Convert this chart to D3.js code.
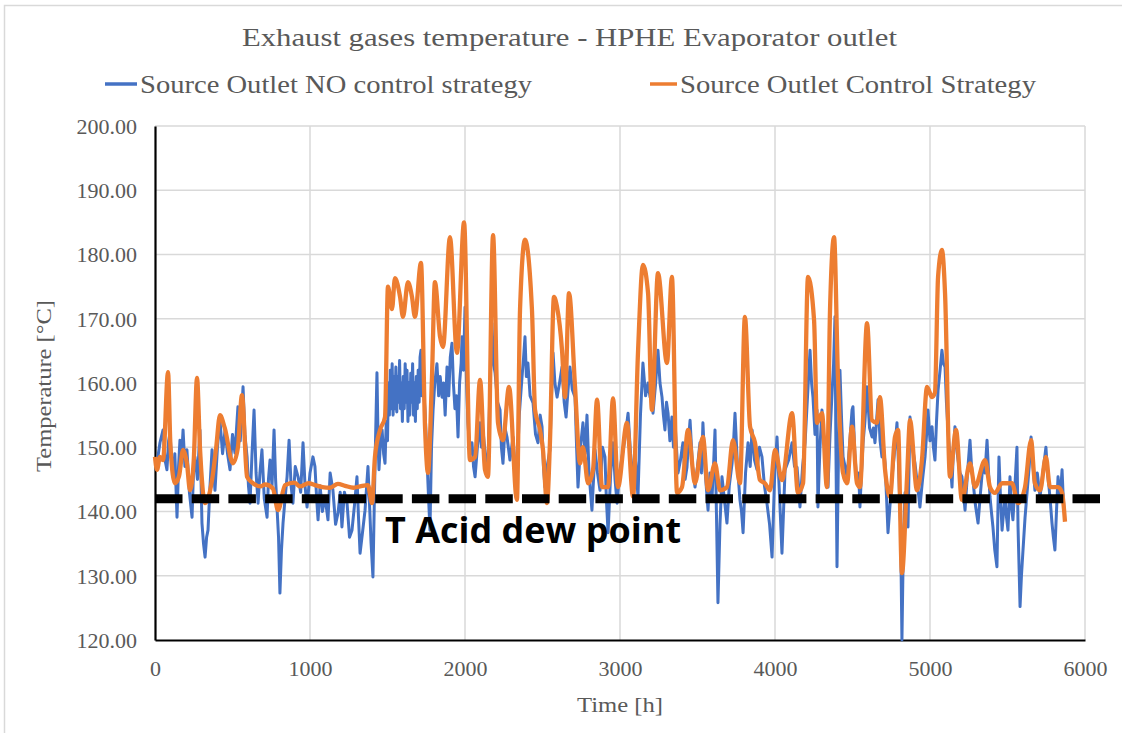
<!DOCTYPE html>
<html><head><meta charset="utf-8">
<script src="https://cdn.jsdelivr.net/npm/d3@7"></script>
<style>body{margin:0;background:#fff}svg{display:block}</style>
</head><body>
<svg id="c" width="1122" height="733"></svg>
<script>
const title = "Exhaust gases temperature - HPHE Evaporator outlet";
const seriesNames = ["Source Outlet NO control strategy", "Source Outlet Control Strategy"];
const xTicks = [0,1000,2000,3000,4000,5000,6000];
const yTicks = [120,130,140,150,160,170,180,190,200];
const dewPoint = 142;
const dewLabel = "T Acid dew point";

// Source Outlet NO control strategy [hour, °C]
const noControl = [
[0,147.5],[13,147.5],[32,150.7],[52,152.7],[65,148],[77,146.5],[88,151],[97,152.2],[107,148],[116,145.4],[128,149],[142,139.1],[152,147],[161,151.1],[171,148],[181,152.7],
[193,147],[206,149.6],[222,143],[239,139.1],[248,146],[258,148.5],[274,145],[290,152.7],[303,138.2],[313,135],[323,132.9],[333,136],[342,137.1],[355,144],[368,149.6],[387,143.3],[403,150],[419,154.2],
[436,149],[452,152.7],[468,149],[484,146.5],[500,152],[516,149.1],[535,156.3],[550,151],[568,159.4],[580,152],[594,148.5],[603,144],[613,141.3],[626,149],[639,155.8],[652,146],[665,141.3],[677,146],[690,149.6],
[705,142],[723,139.1],[732,145],[742,148.0],[755,144],[768,152.7],[778,145],[787,140.7],[797,136],[806,127.3],[816,134],[826,138.2],[839,142],[852,145.4],[865,151.1],[878,144],[890,141.3],[905,147],[923,145.4],
[940,143],[955,150.7],[968,144],[981,140.7],[1000,146],[1019,148.5],[1032,147.0],[1043,142],[1052,138.7],[1065,144],[1080,140],[1097,142.3],[1116,138.7],[1130,146],[1148,143.3],[1165,138],[1181,139.8],[1195,143],[1206,137.6],[1222,143],
[1239,141.3],[1255,136],[1271,137.1],[1287,141],[1303,145.4],[1313,139],[1323,133.5],[1340,137],[1355,140.2],[1374,147.0],[1386,140],[1394,135.1],[1406,129.8],[1420,148],[1432,161.6],[1440,150],[1445,146.5],[1455,151],
[1465,152.7],[1475,149],[1484,147.5],[1492,154],[1500,151],[1506,160],[1512,155],[1518,162],[1524,156],[1530,163],[1536,155],[1542,161],[1548,156],[1554,162.5],[1560,155.5],[1566,161],[1572,157],[1578,163.5],[1584,156],[1590,160],[1596,154],
[1602,161],[1608,156],[1614,163],[1620,157],[1626,162],[1632,154],[1638,160],[1644,155],[1650,161.5],[1656,157],[1662,163],[1668,155],[1674,160],[1680,154],[1686,161],[1692,156],[1698,162],[1704,157],[1710,164],[1716,165.1],[1722,158],[1730,160],[1742,155.8],[1752,150],[1761,144.4],
[1774,137.1],[1784,150],[1794,155.8],[1805,160],[1819,163.0],[1830,158],[1840,161],[1852,157.8],[1862,160],[1872,155],[1884,162.5],[1895,158],[1905,164],[1916,166.2],[1925,160],[1935,156],[1945,158],[1955,151.6],[1965,160],[1975,163],[1981,167.2],[1990,162],[2000,171.8],[2010,160],[2019,153.8],
[2032,149],[2045,150.7],[2055,147],[2065,145.4],[2080,150],[2097,153.8],[2106,150],[2116,152.7],[2130,149],[2148,147.5],[2160,158],[2174,169.3],[2184,163],[2194,161.6],[2210,157],[2226,155.8],[2235,150],[2245,147.5],[2258,153],[2271,151.6],
[2290,148],[2310,151.6],[2322,147],[2335,145.4],[2350,155],[2368,161.0],[2378,164],[2387,167.2],[2396,161],[2406,163.1],[2420,158],[2439,156.9],[2455,152],[2471,150.7],[2485,155],[2497,153.2],[2506,147],[2516,143.8],[2530,147],[2548,149.6],
[2558,158],[2568,164.7],[2580,160],[2594,157.8],[2610,160],[2626,162.5],[2640,157],[2652,154.7],[2665,159],[2677,162.5],[2692,159],[2710,157.8],[2720,150],[2729,143.8],[2745,150],[2761,153.8],[2775,149],[2787,155.0],[2800,146],[2819,140.2],
[2839,149.6],[2855,146],[2871,143.3],[2887,150],[2903,148.5],[2912,142],[2923,136.7],[2940,146],[2955,150.7],[2968,145],[2981,141.3],[2997,146],[3013,148.5],[3030,151],[3052,155.3],[3068,149],[3084,145.4],[3100,148],[3116,142.3],[3132,155],
[3148,163.1],[3165,158],[3181,160.0],[3194,157.8],[3205,161],[3213,155.3],[3230,160],[3245,165.1],[3258,160],[3271,157.8],[3280,155],[3290,152.7],[3300,157],[3310,155.3],[3322,151],[3335,154.7],[3345,150],[3355,153.8],
[3374,146.0],[3390,148],[3406,150.7],[3420,145],[3432,146.9],[3442,151],[3452,154.2],[3468,147],[3484,143.8],[3500,147],[3516,150.7],[3526,146],[3535,153.8],[3550,146],[3568,140.2],[3580,146],[3594,142.3],[3605,148],[3613,152.7],[3622,140],
[3632,125.8],[3645,138],[3658,145.4],[3673,142],[3690,138.2],[3705,144],[3723,147.5],[3733,151],[3742,155.3],[3758,147],[3774,141.8],[3784,140],[3794,136.7],[3810,146],[3826,150.7],[3840,147],[3852,152.7],[3868,148],[3884,146.5],
[3900,150],[3916,148.5],[3932,144],[3948,141.3],[3965,138],[3981,132.9],[3997,145],[4013,151.6],[4030,142],[4045,133.5],[4055,140],[4065,146.5],[4088,148],[4110,150.7],[4126,147],[4142,146.9],[4152,144],[4161,140.7],[4178,147],[4194,150.7],
[4210,158],[4226,165.1],[4236,160],[4245,157.8],[4258,152],[4271,155.8],[4277,140.7],[4290,150],[4303,155.8],[4313,152],[4323,150.7],[4333,147],[4342,143.8],[4355,152],[4368,158.4],[4378,163],[4387,170.3],[4393,150],[4400,131.4],
[4410,150],[4419,162.0],[4430,154],[4439,148.5],[4452,147],[4465,145.4],[4480,150],[4497,155.8],[4503,156.3],[4515,149],[4529,144.4],[4540,146],[4548,140.7],[4558,146],[4568,150.7],[4580,154],[4594,159.4],[4610,153],[4626,151.6],
[4635,153],[4645,150.7],[4655,154],[4665,157.4],[4678,151],[4690,148.5],[4700,150],[4710,147.5],[4720,142],[4729,136.7],[4742,141],[4755,145.4],[4770,149],[4787,153.8],[4800,145],[4810,138],[4819,120.0],[4828,135],[4839,142.9],[4848,140],[4858,137.6],
[4871,154.7],[4887,150],[4903,147.5],[4920,144],[4935,140.7],[4952,145],[4968,148.5],[4978,152],[4987,155.8],[5000,151],[5013,153.2],[5022,150],[5032,148.0],[5042,154],[5052,158.9],[5065,162],[5077,165.1],[5087,163],[5097,162.5],
[5106,157],[5116,152.7],[5130,148],[5142,143.8],[5150,149],[5161,153.2],[5171,150],[5181,148.0],[5193,146],[5206,145.4],[5216,143],[5226,140.2],[5242,146],[5258,151.1],[5268,147],[5277,144.9],[5293,141],[5310,138.2],[5326,143],[5342,147.5],
[5355,146],[5368,151.1],[5378,146],[5387,142.3],[5396,140],[5406,137.6],[5418,134],[5432,131.4],[5438,140],[5445,148.5],[5455,142],[5465,137.1],[5475,140],[5484,142.3],[5494,139],[5503,137.1],[5510,141],[5516,145.4],[5525,141],[5535,138.7],
[5548,144],[5561,150.0],[5568,137.6],[5575,131],[5581,125.2],[5590,130],[5600,134.0],[5613,139],[5626,142.9],[5640,147],[5652,151.6],[5665,147],[5677,143.3],[5692,146],[5710,142.3],[5728,146],[5748,150.0],[5758,146],[5768,143.8],
[5778,141],[5787,138.2],[5796,136],[5806,134.0],[5816,140],[5826,145.4],[5840,142],[5852,146.5],[5858,143],[5865,140.2]
];

// Source Outlet Control Strategy [hour, °C]
const withControl = [
[0,148.5],[13,146.5],[32,148.5],[52,148.0],[84,161.7],[100,150.0],[129,144.4],[155,145.5],[181,149.6],[206,147.5],
[226,143.3],[250,148.0],[271,160.8],[290,150.0],[323,141.3],[368,144.9],[395,150.0],[419,155.0],[450,153.0],[503,147.5],
[535,150.0],[561,158.1],[594,145.4],[632,144.4],[680,143.9],[710,144.2],[760,143.6],[794,140.2],[839,144.1],[900,144.5],
[935,143.9],[990,144.4],[1032,144.1],[1080,143.8],[1129,143.7],[1180,144.3],[1226,144.0],[1280,143.7],[1323,143.9],[1374,144.1],
[1400,141.3],[1419,148.5],[1452,152.7],[1484,154.7],[1503,175.0],[1529,171.5],[1548,176.3],[1581,173.4],[1600,170.3],[1632,175.7],
[1658,173.4],[1677,170.3],[1716,178.7],[1742,153.2],[1761,146.0],[1787,161.0],[1806,175.7],[1839,167.2],[1858,165.6],[1903,182.7],
[1948,164.7],[1994,185.0],[2032,148.0],[2065,148.5],[2097,160.5],[2129,146.5],[2148,145.4],[2181,183.0],[2213,153.8],[2245,151.1],
[2284,159.4],[2335,141.8],[2355,171.4],[2387,182.3],[2432,171.4],[2452,155.8],[2484,152.7],[2503,149.6],[2529,141.3],[2548,150.7],
[2574,173.4],[2594,171.8],[2626,165.1],[2645,157.8],[2671,174.0],[2710,159.4],[2742,147.5],[2761,150.0],[2794,144.4],[2826,146.5],
[2852,157.4],[2884,143.8],[2923,143.8],[2955,157.6],[2987,143.8],[3045,153.8],[3084,142.3],[3116,164.7],[3148,178.4],[3181,174.0],
[3206,155.8],[3245,177.1],[3303,163.1],[3335,176.5],[3368,142.9],[3400,143.8],[3439,152.7],[3484,144.4],[3535,151.6],[3568,143.3],
[3613,147.5],[3645,143.3],[3690,143.8],[3729,151.1],[3774,144.4],[3806,170.3],[3839,153.2],[3871,150.7],[3903,144.9],[3935,144.4],
[3968,143.3],[4000,149.6],[4045,144.9],[4110,155.3],[4148,142.9],[4181,144.4],[4213,176.5],[4252,169.8],[4271,153.8],[4303,155.3],
[4335,143.8],[4355,171.4],[4381,182.7],[4406,161.0],[4439,146.0],[4465,144.4],[4497,153.2],[4529,144.4],[4548,143.8],[4594,169.3],
[4626,154.2],[4658,153.8],[4677,157.8],[4710,146.5],[4742,142.3],[4774,151.6],[4794,152.7],[4819,130.4],[4852,145.4],[4871,154.2],
[4916,143.3],[4948,148.0],[4981,159.4],[5013,157.8],[5032,158.5],[5052,176.5],[5077,180.7],[5097,174.0],[5129,145.4],[5168,152.7],
[5206,141.8],[5258,147.5],[5290,143.8],[5355,148.0],[5387,143.8],[5419,142.9],[5465,144.4],[5529,144.4],[5568,141.3],[5613,143.8],
[5652,151.1],[5677,144.4],[5710,143.3],[5748,148.5],[5774,143.8],[5826,143.8],[5852,142.9],[5871,138.4]
];

const colors = ["#4472C4", "#ED7D31"];
const svg = d3.select("#c");
const FONT = "'Liberation Serif', 'DejaVu Serif', serif";
const TXT = "#595959";

svg.append("rect").attr("x",4.5).attr("y",5.5).attr("width",1130).attr("height",740)
  .attr("fill","none").attr("stroke","#d9d9d9").attr("stroke-width",1.5);

const x = d3.scaleLinear().domain([0,6000]).range([155,1085]);
const y = d3.scaleLinear().domain([120,200]).range([640,126]);

// grid
svg.append("g").selectAll("line").data(yTicks.filter(d=>d>120)).join("line")
  .attr("x1",155).attr("x2",1085).attr("y1",d=>y(d)).attr("y2",d=>y(d))
  .attr("stroke","#d9d9d9").attr("stroke-width",1.5);
svg.append("g").selectAll("line").data(xTicks.filter(d=>d>0)).join("line")
  .attr("x1",d=>x(d)).attr("x2",d=>x(d)).attr("y1",126).attr("y2",640)
  .attr("stroke","#d9d9d9").attr("stroke-width",1.5);

// axes
const yAxis = svg.append("g").attr("transform","translate(155,0)")
  .call(d3.axisLeft(y).tickValues(yTicks).tickSize(0).tickPadding(18).tickFormat(d3.format(".2f")));
const xAxis = svg.append("g").attr("transform","translate(0,640)")
  .call(d3.axisBottom(x).tickValues(xTicks).tickSize(0).tickPadding(20).tickFormat(d3.format("d")));
[yAxis,xAxis].forEach(a=>{
  a.select(".domain").attr("stroke","#000").attr("stroke-width",2.2);
  a.selectAll("text").attr("font-family",FONT).attr("font-size",22).attr("fill",TXT);
});
yAxis.selectAll("text").attr("dy","0.34em");

// series
const line = d3.line().x(d=>x(d[0])).y(d=>y(d[1]));
svg.append("path").datum(noControl).attr("d",line.curve(d3.curveLinear))
  .attr("fill","none").attr("stroke",colors[0]).attr("stroke-width",3).attr("stroke-linejoin","round");
svg.append("path").datum(withControl).attr("d",line.curve(d3.curveMonotoneX))
  .attr("fill","none").attr("stroke",colors[1]).attr("stroke-width",4.3).attr("stroke-linejoin","round");

// dew point line
svg.append("line").attr("x1",x(0)).attr("x2",1102).attr("y1",y(dewPoint)).attr("y2",y(dewPoint))
  .attr("stroke","#000").attr("stroke-width",9).attr("stroke-dasharray","27.5,9.2");
svg.append("text").attr("x",385).attr("y",543).text(dewLabel)
  .attr("font-family","'Open Sans', 'Noto Sans', sans-serif").attr("font-weight","bold")
  .attr("font-size",36).attr("fill","#000").attr("textLength",296).attr("lengthAdjust","spacingAndGlyphs");

// title
svg.append("text").attr("x",569.5).attr("y",46).attr("text-anchor","middle").text(title)
  .attr("font-family",FONT).attr("font-size",26).attr("fill",TXT)
  .attr("textLength",655).attr("lengthAdjust","spacingAndGlyphs");

// legend
const leg = [{x1:105,x2:137,tx:140,tw:392},{x1:650,x2:677,tx:680,tw:356}];
leg.forEach((l,i)=>{
  svg.append("line").attr("x1",l.x1).attr("x2",l.x2).attr("y1",84).attr("y2",84)
    .attr("stroke",colors[i]).attr("stroke-width",3.5);
  svg.append("text").attr("x",l.tx).attr("y",93).text(seriesNames[i])
    .attr("font-family",FONT).attr("font-size",26).attr("fill",TXT)
    .attr("textLength",l.tw).attr("lengthAdjust","spacingAndGlyphs");
});

// axis titles
svg.append("text").attr("transform","translate(51,386) rotate(-90)").attr("text-anchor","middle")
  .text("Temperature [°C]").attr("font-family",FONT).attr("font-size",22).attr("fill",TXT)
  .attr("textLength",172).attr("lengthAdjust","spacingAndGlyphs");
svg.append("text").attr("x",620).attr("y",712).attr("text-anchor","middle")
  .text("Time [h]").attr("font-family",FONT).attr("font-size",22).attr("fill",TXT)
  .attr("textLength",86).attr("lengthAdjust","spacingAndGlyphs");
</script>
</body></html>
